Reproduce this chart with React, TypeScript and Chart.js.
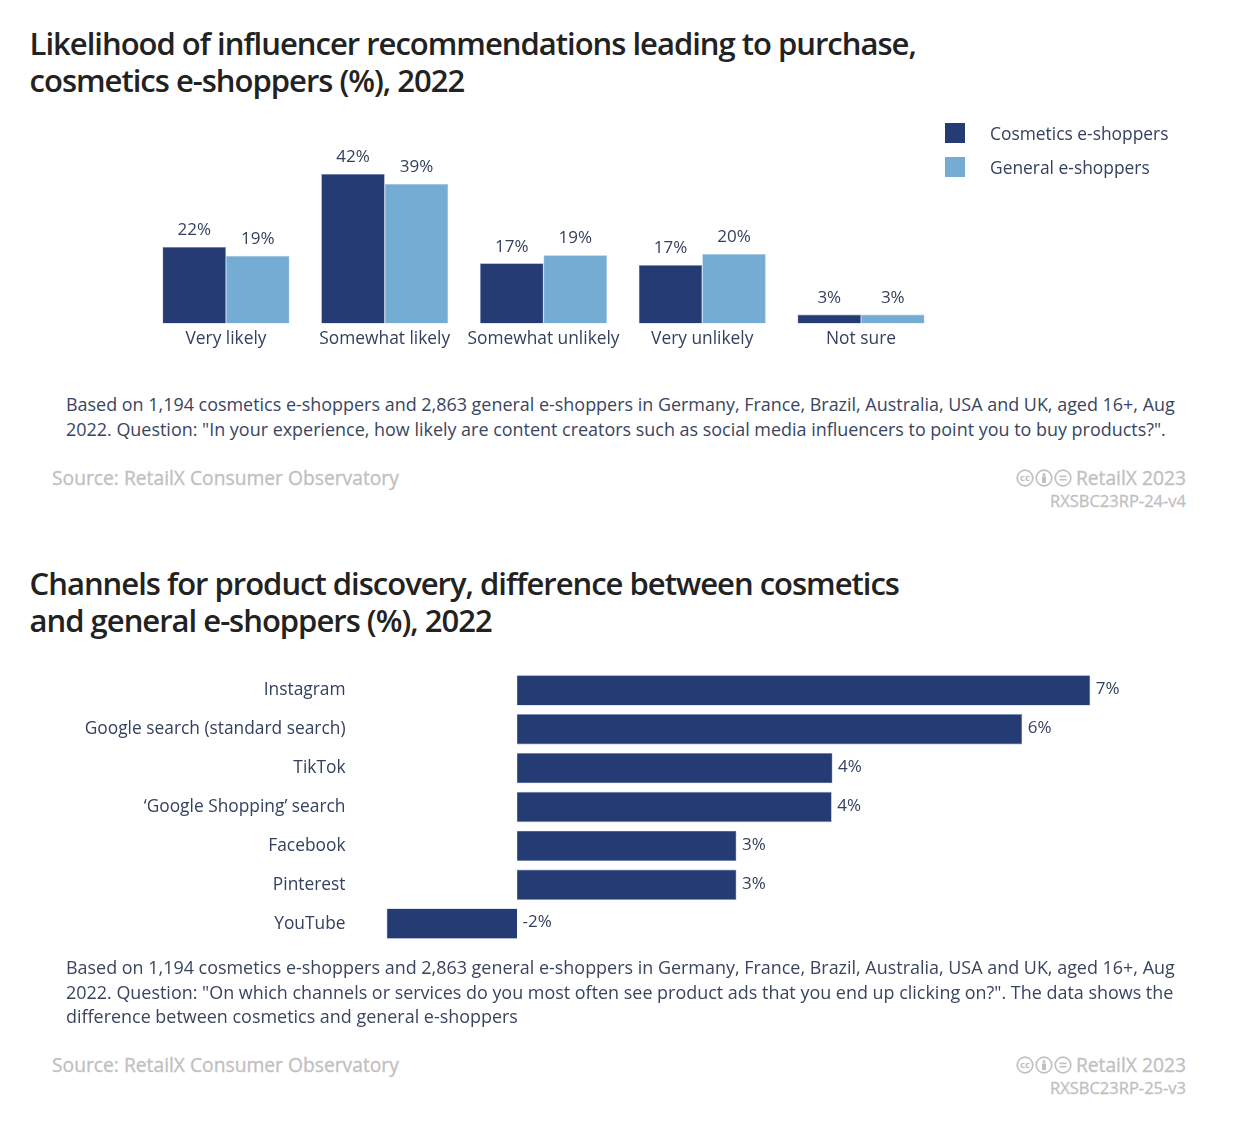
import React, { useEffect, useRef } from "react";
import { Chart, registerables } from "chart.js";

Chart.register(...registerables);

const FONT = '"Open Sans", sans-serif';
const NAVY = "#243c73";
const NAVY_EDGE = "#8496bb";
const LIGHT = "#75acd4";
const LIGHT_EDGE = "#a3c8e3";
const TEXT = "#33415f";
const GREY = "#c0c0c0";

const likelihoodCategories = ["Very likely", "Somewhat likely", "Somewhat unlikely", "Very unlikely", "Not sure"];
const cosmeticsValues = [21.5, 42, 16.9, 16.4, 2.5];
const generalValues = [19, 39.2, 19.2, 19.5, 2.5];
const cosmeticsLabels = ["22%", "42%", "17%", "17%", "3%"];
const generalLabels = ["19%", "39%", "19%", "20%", "3%"];
const seriesNames = ["Cosmetics e-shoppers", "General e-shoppers"];

const channelCategories = ["Instagram", "Google search (standard search)", "TikTok", "\u2018Google Shopping\u2019 search", "Facebook", "Pinterest", "YouTube"];
const channelValues = [7.16, 6.31, 3.94, 3.93, 2.74, 2.74, -1.63];
const channelLabels = ["7%", "6%", "4%", "4%", "3%", "3%", "-2%"];

const barLabels = {
  id: "barLabels",
  afterDatasetsDraw(chart: any) {
    const o = chart.options.plugins.barLabels;
    const ctx = chart.ctx;
    ctx.save();
    ctx.fillStyle = TEXT;
    ctx.font = `17px ${FONT}`;
    ctx.textBaseline = "middle";
    chart.data.datasets.forEach((_: any, di: number) => {
      chart.getDatasetMeta(di).data.forEach((el: any, i: number) => {
        const t = o.labels[di][i];
        if (o.horizontal) {
          ctx.textAlign = "left";
          const x = Math.max(el.x, el.base);
          ctx.fillText(t, x + 5.5, el.y - 1);
        } else {
          ctx.textAlign = "center";
          ctx.fillText(t, el.x, el.y - 16.5);
        }
      });
    });
    ctx.restore();
  },
};

function ColumnChart() {
  const ref = useRef<HTMLCanvasElement>(null);
  useEffect(() => {
    const chart = new Chart(ref.current!, {
      type: "bar",
      plugins: [barLabels],
      data: {
        labels: likelihoodCategories,
        datasets: [
          { label: seriesNames[0], data: cosmeticsValues, backgroundColor: NAVY, borderColor: NAVY_EDGE, borderWidth: 0.6 },
          { label: seriesNames[1], data: generalValues, backgroundColor: LIGHT, borderColor: LIGHT_EDGE, borderWidth: 0.6 },
        ],
      },
      options: {
        animation: false,
        responsive: false,
        layout: { padding: { left: 146.6, right: 317.6, top: 35.5, bottom: 0 } },
        datasets: { bar: { categoryPercentage: 0.8, barPercentage: 1 } },
        plugins: {
          legend: { display: false },
          tooltip: { enabled: false },
          barLabels: { labels: [cosmeticsLabels, generalLabels] },
        } as any,
        scales: {
          x: {
            afterFit: (a: any) => { a.height = 36.5; },
            grid: { display: false, drawTicks: false },
            border: { display: false },
            ticks: { color: TEXT, font: { family: FONT, size: 17.35 }, padding: 5, maxRotation: 0, autoSkip: false },
          },
          y: { display: false, min: 0, max: 50 },
        },
      },
    } as any);
    return () => chart.destroy();
  }, []);
  return <canvas ref={ref} width={1258} height={250} style={{ position: "absolute", left: 0, top: 110, width: 1258, height: 250 }} />;
}

function BarChart() {
  const ref = useRef<HTMLCanvasElement>(null);
  useEffect(() => {
    const chart = new Chart(ref.current!, {
      type: "bar",
      plugins: [barLabels],
      data: {
        labels: channelCategories,
        datasets: [{ label: "Difference", data: channelValues, backgroundColor: NAVY, borderColor: NAVY_EDGE, borderWidth: 0.6 }],
      },
      options: {
        animation: false,
        responsive: false,
        indexAxis: "y",
        layout: { padding: { left: 0, right: 100.5, top: 0, bottom: 0 } },
        datasets: { bar: { categoryPercentage: 0.78, barPercentage: 1 } },
        plugins: {
          legend: { display: false },
          tooltip: { enabled: false },
          barLabels: { labels: [channelLabels], horizontal: true },
        } as any,
        scales: {
          x: { display: false, min: -2, max: 8 },
          y: {
            afterFit: (a: any) => { a.width = 357; },
            grid: { display: false, drawTicks: false },
            border: { display: false },
            ticks: { color: TEXT, font: { family: FONT, size: 17.35 }, padding: 11.5, autoSkip: false },
          },
        },
      },
    } as any);
    return () => chart.destroy();
  }, []);
  return <canvas ref={ref} width={1258} height={316} style={{ position: "absolute", left: 0, top: 649, width: 1258, height: 316 }} />;
}

const abs = (left: number, top: number, extra: React.CSSProperties = {}): React.CSSProperties => ({
  position: "absolute", left, top, fontFamily: FONT, whiteSpace: "nowrap", ...extra,
});

function Title({ top, lines, lineHeight }: { top: number; lines: string[]; lineHeight: number }) {
  return (
    <div style={abs(29.6, top, { fontSize: 31, lineHeight: `${lineHeight}px`, fontWeight: 600, color: "#222", letterSpacing: -1.0 })}>
      {lines.map((l) => <div key={l}>{l}</div>)}
    </div>
  );
}

function Note({ top, lines }: { top: number; lines: string[] }) {
  return (
    <div style={abs(66, top, { fontSize: 17.95, lineHeight: "24.5px", color: "#39455f" })}>
      {lines.map((l) => <div key={l}>{l}</div>)}
    </div>
  );
}

function Badge({ children }: { children: React.ReactNode }) {
  return (
    <svg width={18} height={18} viewBox="0 0 18 18" style={{ marginRight: 1 }}>
      <circle cx={9} cy={9} r={7.8} fill="none" stroke={GREY} strokeWidth={1.7} />
      {children}
    </svg>
  );
}

const footerStroke = { WebkitTextStroke: `0.3px ${GREY}` } as React.CSSProperties;

function Footer({ top, code }: { top: number; code: string }) {
  return (
    <>
      <div style={abs(52, top, { fontSize: 19.25, lineHeight: "24px", color: GREY, ...footerStroke })}>Source: RetailX Consumer Observatory</div>
      <div style={{ ...abs(0, top, { fontSize: 19.25, lineHeight: "24px", color: GREY, ...footerStroke }), left: "auto", right: 72, display: "flex", alignItems: "center" }}>
        <Badge><text x={9} y={12.3} textAnchor="middle" fontSize={9.5} fontWeight={700} fill={GREY} fontFamily={FONT} stroke="none">cc</text></Badge>
        <Badge><circle cx={9} cy={5.4} r={1.5} fill={GREY} /><rect x={7} y={7.4} width={4} height={6.6} fill={GREY} /></Badge>
        <Badge><rect x={5.5} y={6.6} width={7} height={1.6} fill={GREY} /><rect x={5.5} y={9.9} width={7} height={1.6} fill={GREY} /></Badge>
        <span style={{ marginLeft: 3 }}>RetailX 2023</span>
      </div>
      <div style={{ ...abs(0, top + 24, { fontSize: 16.5, lineHeight: "22px", color: GREY, ...footerStroke }), left: "auto", right: 72 }}>{code}</div>
    </>
  );
}

function LegendRow({ top, color, label }: { top: number; color: string; label: string }) {
  return (
    <>
      <div style={{ position: "absolute", left: 945, top, width: 20, height: 20, background: color }} />
      <div style={abs(990, top - 2, { fontSize: 17.4, lineHeight: "24px", color: TEXT })}>{label}</div>
    </>
  );
}

export default function App() {
  return (
    <div style={{ position: "absolute", left: 0, top: 0, width: 1258, height: 1134, overflow: "hidden", background: "#fff" }}>
      <Title top={25} lineHeight={36.5} lines={["Likelihood of influencer recommendations leading to purchase,", "cosmetics e-shoppers (%), 2022"]} />
      <ColumnChart />
      <LegendRow top={123} color={NAVY} label={seriesNames[0]} />
      <LegendRow top={157} color={LIGHT} label={seriesNames[1]} />
      <Note top={392} lines={[
        "Based on 1,194 cosmetics e-shoppers and 2,863 general e-shoppers in Germany, France, Brazil, Australia, USA and UK, aged 16+, Aug",
        "2022. Question: \"In your experience, how likely are content creators such as social media influencers to point you to buy products?\".",
      ]} />
      <Footer top={466} code="RXSBC23RP-24-v4" />
      <Title top={565} lineHeight={37} lines={["Channels for product discovery, difference between cosmetics", "and general e-shoppers (%), 2022"]} />
      <BarChart />
      <Note top={955} lines={[
        "Based on 1,194 cosmetics e-shoppers and 2,863 general e-shoppers in Germany, France, Brazil, Australia, USA and UK, aged 16+, Aug",
        "2022. Question: \"On which channels or services do you most often see product ads that you end up clicking on?\". The data shows the",
        "difference between cosmetics and general e-shoppers",
      ]} />
      <Footer top={1053} code="RXSBC23RP-25-v3" />
    </div>
  );
}
